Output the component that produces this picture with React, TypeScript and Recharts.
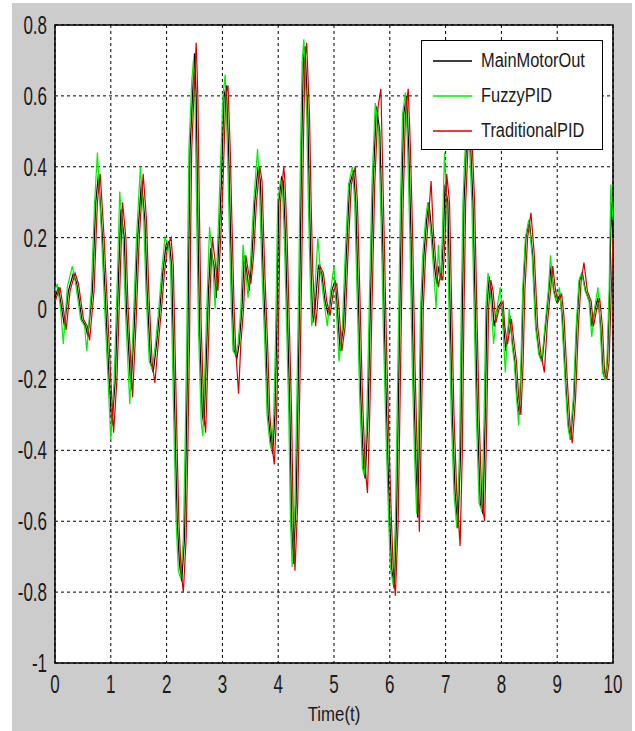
import {
  CartesianGrid,
  Legend,
  Line,
  LineChart,
  ReferenceArea,
  XAxis,
  YAxis,
} from 'recharts';

// [time, value] pairs
const mainMotorOut: [number, number][] = [
  [0, 0.03], [0.06, 0.06], [0.12, 0.0], [0.17, -0.05], [0.24, 0.05], [0.33, 0.1], [0.39, 0.07],
  [0.48, -0.03], [0.55, -0.05], [0.59, -0.08], [0.67, 0.05], [0.73, 0.3], [0.78, 0.38], [0.85, 0.2],
  [0.91, 0.0], [0.97, -0.2], [1.02, -0.33], [1.08, -0.2], [1.14, 0.1], [1.18, 0.28], [1.24, 0.2],
  [1.28, 0.0], [1.36, -0.23], [1.42, -0.05], [1.48, 0.2], [1.55, 0.36], [1.61, 0.25], [1.65, 0.05],
  [1.71, -0.15], [1.76, -0.18], [1.82, -0.1], [1.88, 0.0], [1.93, 0.1], [1.99, 0.18], [2.05, 0.19],
  [2.09, 0.12], [2.12, -0.1], [2.16, -0.4], [2.19, -0.6], [2.23, -0.72], [2.27, -0.77], [2.32, -0.65],
  [2.35, -0.4], [2.38, -0.1], [2.4, 0.2], [2.42, 0.45], [2.47, 0.62], [2.5, 0.72], [2.53, 0.6],
  [2.56, 0.25], [2.59, -0.05], [2.64, -0.3], [2.67, -0.33], [2.71, -0.15], [2.75, 0.05], [2.79, 0.17],
  [2.85, 0.12], [2.89, 0.03], [2.94, 0.2], [2.98, 0.35], [3.03, 0.6], [3.07, 0.63], [3.11, 0.45],
  [3.14, 0.25], [3.18, 0.0], [3.21, -0.12], [3.26, -0.14], [3.3, -0.1], [3.35, 0.0], [3.39, 0.15],
  [3.44, 0.1], [3.48, 0.05], [3.53, 0.15], [3.58, 0.3], [3.64, 0.4], [3.68, 0.36], [3.73, 0.1],
  [3.78, -0.1], [3.82, -0.3], [3.87, -0.38], [3.9, -0.41], [3.94, -0.3], [3.97, -0.1], [4.01, 0.3],
  [4.06, 0.37], [4.09, 0.36], [4.13, 0.2], [4.17, -0.05], [4.21, -0.3], [4.24, -0.6], [4.27, -0.72],
  [4.32, -0.55], [4.36, -0.2], [4.39, 0.1], [4.42, 0.45], [4.45, 0.7], [4.48, 0.74], [4.53, 0.55],
  [4.56, 0.3], [4.59, 0.1], [4.62, -0.04], [4.66, 0.0], [4.72, 0.12], [4.78, 0.1], [4.84, 0.02],
  [4.9, -0.02], [4.96, 0.05], [5.02, 0.08], [5.06, 0.0], [5.11, -0.12], [5.17, -0.05], [5.22, 0.15],
  [5.28, 0.35], [5.35, 0.39], [5.39, 0.3], [5.44, 0.0], [5.48, -0.25], [5.53, -0.45], [5.56, -0.48],
  [5.61, -0.3], [5.65, 0.0], [5.7, 0.35], [5.76, 0.57], [5.82, 0.5], [5.87, 0.2], [5.91, -0.1],
  [5.96, -0.4], [6.0, -0.6], [6.03, -0.73], [6.08, -0.79], [6.12, -0.6], [6.15, -0.3], [6.18, 0.0],
  [6.21, 0.3], [6.25, 0.55], [6.3, 0.6], [6.34, 0.45], [6.38, 0.2], [6.42, -0.15], [6.46, -0.4],
  [6.5, -0.59], [6.54, -0.3], [6.57, 0.0], [6.61, 0.15], [6.66, 0.25], [6.7, 0.3], [6.75, 0.22],
  [6.8, 0.12], [6.84, 0.07], [6.88, 0.12], [6.92, 0.08], [6.96, 0.2], [6.99, 0.35], [7.04, 0.3],
  [7.08, 0.0], [7.12, -0.3], [7.17, -0.52], [7.22, -0.62], [7.27, -0.4], [7.3, 0.0], [7.33, 0.3],
  [7.37, 0.45], [7.41, 0.5], [7.45, 0.45], [7.49, 0.3], [7.53, 0.0], [7.57, -0.3], [7.62, -0.55],
  [7.67, -0.58], [7.71, -0.3], [7.74, 0.0], [7.78, 0.09], [7.82, 0.05], [7.87, -0.05], [7.93, 0.0],
  [8.0, 0.02], [8.03, -0.03], [8.08, -0.12], [8.15, -0.02], [8.2, -0.1], [8.24, -0.15], [8.28, -0.25],
  [8.32, -0.3], [8.36, -0.15], [8.39, 0.05], [8.44, 0.2], [8.5, 0.25], [8.56, 0.15], [8.62, -0.05],
  [8.68, -0.13], [8.73, -0.15], [8.79, -0.05], [8.85, 0.05], [8.89, 0.12], [8.94, 0.05], [8.99, 0.02],
  [9.05, 0.04], [9.09, -0.02], [9.15, -0.2], [9.2, -0.33], [9.24, -0.37], [9.3, -0.25], [9.35, -0.05],
  [9.4, 0.08], [9.45, 0.1], [9.51, 0.05], [9.58, 0.02], [9.62, -0.05], [9.68, 0.0], [9.73, 0.03],
  [9.78, -0.05], [9.82, -0.18], [9.86, -0.2], [9.9, -0.15], [9.94, 0.05], [9.97, 0.3], [10, 0.2],
];

const fuzzyPID: [number, number][] = [
  [0, 0.05], [0.04, 0.07], [0.1, 0.0], [0.15, -0.1], [0.22, 0.06], [0.31, 0.12], [0.37, 0.07],
  [0.46, -0.03], [0.53, -0.05], [0.57, -0.12], [0.65, 0.05], [0.71, 0.3], [0.76, 0.44], [0.83, 0.22],
  [0.89, 0.0], [0.95, -0.2], [1.0, -0.37], [1.06, -0.2], [1.12, 0.1], [1.16, 0.33], [1.22, 0.2],
  [1.26, 0.0], [1.34, -0.27], [1.4, -0.05], [1.46, 0.2], [1.53, 0.4], [1.59, 0.25], [1.63, 0.05],
  [1.69, -0.15], [1.74, -0.17], [1.8, -0.1], [1.86, 0.0], [1.91, 0.1], [1.97, 0.2], [2.03, 0.18],
  [2.07, 0.12], [2.1, -0.1], [2.14, -0.4], [2.17, -0.6], [2.21, -0.74], [2.25, -0.76], [2.3, -0.65],
  [2.33, -0.4], [2.36, -0.1], [2.38, 0.2], [2.4, 0.45], [2.45, 0.64], [2.48, 0.7], [2.51, 0.58],
  [2.54, 0.25], [2.57, -0.05], [2.62, -0.32], [2.65, -0.36], [2.69, -0.15], [2.73, 0.05], [2.77, 0.23],
  [2.83, 0.12], [2.87, 0.0], [2.92, 0.2], [2.96, 0.38], [3.01, 0.6], [3.05, 0.66], [3.09, 0.45],
  [3.12, 0.25], [3.16, 0.0], [3.19, -0.12], [3.24, -0.13], [3.28, -0.1], [3.33, 0.0], [3.37, 0.18],
  [3.42, 0.1], [3.46, 0.03], [3.51, 0.15], [3.56, 0.3], [3.63, 0.45], [3.66, 0.36], [3.71, 0.1],
  [3.76, -0.1], [3.8, -0.3], [3.85, -0.38], [3.88, -0.4], [3.92, -0.3], [3.95, -0.1], [3.99, 0.3],
  [4.04, 0.36], [4.07, 0.36], [4.11, 0.2], [4.15, -0.05], [4.19, -0.3], [4.22, -0.6], [4.25, -0.73],
  [4.3, -0.55], [4.34, -0.2], [4.37, 0.1], [4.4, 0.45], [4.43, 0.7], [4.46, 0.76], [4.51, 0.55],
  [4.54, 0.3], [4.57, 0.1], [4.6, -0.05], [4.64, 0.0], [4.71, 0.2], [4.76, 0.1], [4.82, 0.02],
  [4.88, -0.05], [4.94, 0.05], [5.0, 0.12], [5.04, 0.0], [5.09, -0.15], [5.15, -0.05], [5.2, 0.15],
  [5.26, 0.35], [5.33, 0.4], [5.37, 0.3], [5.42, 0.0], [5.46, -0.25], [5.51, -0.45], [5.54, -0.47],
  [5.59, -0.3], [5.63, 0.0], [5.68, 0.35], [5.74, 0.58], [5.8, 0.5], [5.85, 0.2], [5.89, -0.1],
  [5.94, -0.4], [5.98, -0.6], [6.01, -0.73], [6.06, -0.78], [6.1, -0.6], [6.13, -0.3], [6.16, 0.0],
  [6.19, 0.3], [6.23, 0.55], [6.28, 0.61], [6.32, 0.45], [6.36, 0.2], [6.4, -0.15], [6.44, -0.4],
  [6.48, -0.58], [6.52, -0.3], [6.55, 0.0], [6.59, 0.15], [6.64, 0.25], [6.68, 0.3], [6.73, 0.22],
  [6.78, 0.12], [6.83, 0.0], [6.87, 0.18], [6.91, 0.08], [6.94, 0.2], [6.98, 0.44], [7.02, 0.3],
  [7.06, 0.0], [7.1, -0.3], [7.15, -0.52], [7.2, -0.62], [7.25, -0.4], [7.28, 0.0], [7.31, 0.3],
  [7.35, 0.45], [7.39, 0.5], [7.43, 0.45], [7.47, 0.3], [7.51, 0.0], [7.55, -0.3], [7.6, -0.55],
  [7.65, -0.57], [7.69, -0.3], [7.72, 0.0], [7.76, 0.1], [7.8, 0.05], [7.86, -0.1], [7.92, 0.0],
  [7.98, 0.06], [8.02, -0.03], [8.07, -0.18], [8.14, 0.0], [8.19, -0.1], [8.23, -0.15], [8.27, -0.25],
  [8.31, -0.33], [8.35, -0.15], [8.38, 0.05], [8.43, 0.2], [8.49, 0.25], [8.55, 0.15], [8.61, -0.05],
  [8.67, -0.13], [8.72, -0.15], [8.78, -0.05], [8.84, 0.05], [8.88, 0.15], [8.93, 0.05], [8.98, 0.02],
  [9.04, 0.06], [9.08, -0.02], [9.14, -0.2], [9.19, -0.33], [9.23, -0.37], [9.29, -0.25], [9.34, -0.05],
  [9.39, 0.08], [9.44, 0.1], [9.5, 0.05], [9.57, 0.02], [9.62, -0.08], [9.67, 0.0], [9.73, 0.06],
  [9.77, -0.05], [9.81, -0.18], [9.86, -0.2], [9.89, -0.15], [9.93, 0.05], [9.96, 0.35], [10, 0.25],
];

const traditionalPID: [number, number][] = [
  [0, 0.02], [0.09, 0.06], [0.15, 0.0], [0.2, -0.06], [0.27, 0.05], [0.36, 0.1], [0.42, 0.07],
  [0.51, -0.03], [0.58, -0.05], [0.62, -0.09], [0.7, 0.05], [0.76, 0.3], [0.81, 0.38], [0.88, 0.2],
  [0.94, 0.0], [1.0, -0.2], [1.05, -0.35], [1.11, -0.2], [1.17, 0.1], [1.21, 0.3], [1.27, 0.2],
  [1.31, 0.0], [1.39, -0.25], [1.45, -0.05], [1.51, 0.2], [1.58, 0.38], [1.64, 0.25], [1.68, 0.05],
  [1.74, -0.15], [1.79, -0.21], [1.85, -0.1], [1.91, 0.0], [1.96, 0.1], [2.02, 0.18], [2.08, 0.2],
  [2.12, 0.12], [2.15, -0.1], [2.19, -0.4], [2.22, -0.6], [2.26, -0.74], [2.3, -0.8], [2.35, -0.65],
  [2.38, -0.4], [2.41, -0.1], [2.43, 0.2], [2.45, 0.45], [2.5, 0.64], [2.53, 0.75], [2.56, 0.6],
  [2.59, 0.25], [2.62, -0.05], [2.67, -0.3], [2.7, -0.35], [2.74, -0.15], [2.78, 0.05], [2.82, 0.2],
  [2.88, 0.12], [2.92, 0.05], [2.97, 0.2], [3.01, 0.35], [3.06, 0.6], [3.1, 0.63], [3.14, 0.45],
  [3.17, 0.25], [3.21, 0.0], [3.24, -0.12], [3.29, -0.24], [3.33, -0.1], [3.38, 0.0], [3.42, 0.15],
  [3.47, 0.1], [3.51, 0.07], [3.56, 0.15], [3.61, 0.3], [3.67, 0.4], [3.71, 0.36], [3.76, 0.1],
  [3.81, -0.1], [3.85, -0.3], [3.9, -0.4], [3.93, -0.44], [3.97, -0.3], [4.0, -0.1], [4.04, 0.3],
  [4.1, 0.4], [4.12, 0.36], [4.16, 0.2], [4.2, -0.05], [4.24, -0.3], [4.27, -0.6], [4.3, -0.74],
  [4.35, -0.55], [4.39, -0.2], [4.42, 0.1], [4.45, 0.45], [4.48, 0.7], [4.51, 0.75], [4.56, 0.55],
  [4.59, 0.3], [4.62, 0.1], [4.67, -0.05], [4.7, 0.0], [4.75, 0.12], [4.81, 0.1], [4.87, 0.02],
  [4.93, -0.02], [4.99, 0.05], [5.05, 0.07], [5.09, 0.0], [5.14, -0.12], [5.2, -0.05], [5.25, 0.15],
  [5.31, 0.35], [5.38, 0.4], [5.42, 0.3], [5.47, 0.0], [5.51, -0.25], [5.56, -0.45], [5.6, -0.52],
  [5.64, -0.3], [5.68, 0.0], [5.73, 0.35], [5.79, 0.57], [5.84, 0.62], [5.9, 0.2], [5.94, -0.1],
  [5.99, -0.4], [6.03, -0.6], [6.06, -0.73], [6.1, -0.81], [6.15, -0.6], [6.18, -0.3], [6.21, 0.0],
  [6.24, 0.3], [6.28, 0.55], [6.33, 0.62], [6.37, 0.45], [6.41, 0.2], [6.45, -0.15], [6.49, -0.4],
  [6.53, -0.63], [6.57, -0.3], [6.6, 0.0], [6.64, 0.15], [6.69, 0.25], [6.74, 0.36], [6.78, 0.22],
  [6.83, 0.12], [6.87, 0.06], [6.91, 0.1], [6.95, 0.08], [6.99, 0.2], [7.02, 0.38], [7.07, 0.3],
  [7.11, 0.0], [7.15, -0.3], [7.2, -0.52], [7.26, -0.67], [7.3, -0.4], [7.33, 0.0], [7.36, 0.3],
  [7.4, 0.45], [7.44, 0.52], [7.48, 0.45], [7.52, 0.3], [7.56, 0.0], [7.6, -0.3], [7.65, -0.55],
  [7.7, -0.6], [7.74, -0.3], [7.77, 0.0], [7.81, 0.08], [7.85, 0.05], [7.9, -0.04], [7.96, 0.0],
  [8.03, 0.02], [8.06, -0.05], [8.11, -0.1], [8.18, -0.03], [8.23, -0.1], [8.27, -0.15], [8.31, -0.25],
  [8.35, -0.3], [8.39, -0.15], [8.42, 0.05], [8.47, 0.2], [8.53, 0.27], [8.59, 0.15], [8.65, -0.05],
  [8.71, -0.13], [8.77, -0.18], [8.82, -0.05], [8.88, 0.05], [8.92, 0.12], [8.97, 0.05], [9.02, 0.02],
  [9.08, 0.04], [9.12, -0.02], [9.18, -0.2], [9.23, -0.33], [9.27, -0.38], [9.33, -0.25], [9.38, -0.05],
  [9.43, 0.08], [9.48, 0.13], [9.54, 0.05], [9.61, 0.02], [9.65, -0.05], [9.71, 0.0], [9.76, 0.03],
  [9.81, -0.05], [9.85, -0.18], [9.89, -0.2], [9.93, -0.15], [9.97, 0.05], [10, 0.2],
];

const xTicks = [0, 1, 2, 3, 4, 5, 6, 7, 8, 9, 10];
const yTicks = [-1, -0.8, -0.6, -0.4, -0.2, 0, 0.2, 0.4, 0.6, 0.8];

const series = [
  { name: 'MainMotorOut', color: '#000000', points: mainMotorOut },
  { name: 'FuzzyPID', color: '#00ee00', points: fuzzyPID },
  { name: 'TraditionalPID', color: '#d40000', points: traditionalPID },
];

const font = '"Liberation Sans", Arial, sans-serif';
const ink = '#1a1a1a';

// narrow MATLAB-ish glyphs: regular sans squeezed horizontally
function XTick({ x, y, payload }: any) {
  return (
    <g transform={`translate(${x},${y + 6})`}>
      <text transform="scale(0.68,1)" textAnchor="middle" dy="0.72em" fill={ink} fontSize={25} fontFamily={font}>
        {payload.value}
      </text>
    </g>
  );
}

function YTick({ x, y, payload }: any) {
  return (
    <g transform={`translate(${x},${y})`}>
      <text transform="scale(0.68,1)" textAnchor="end" dy="0.36em" fill={ink} fontSize={25} fontFamily={font}>
        {payload.value}
      </text>
    </g>
  );
}

function TimeLabel({ viewBox }: any) {
  const cx = viewBox.x + viewBox.width / 2;
  return (
    <g transform={`translate(${cx},${viewBox.y + 58})`}>
      <text transform="scale(0.8,1)" textAnchor="middle" fill={ink} fontSize={21} fontFamily={font}>
        Time(t)
      </text>
    </g>
  );
}

function MatlabLegend() {
  return (
    <div
      style={{
        width: 182,
        height: 110,
        boxSizing: 'border-box',
        border: '1px solid #000',
        background: '#fff',
        paddingTop: 2,
        fontFamily: font,
        fontSize: 20,
        color: ink,
      }}
    >
      {series.map((s) => (
        <div key={s.name} style={{ display: 'flex', alignItems: 'center', height: 35 }}>
          <svg width={59} height={10} style={{ flexShrink: 0 }}>
            <line x1={11} x2={50} y1={5} y2={5} stroke={s.color} strokeWidth={1.5} />
          </svg>
          <span style={{ display: 'inline-block', transform: 'scaleX(0.82)', transformOrigin: 'left center', whiteSpace: 'nowrap' }}>
            {s.name}
          </span>
        </div>
      ))}
    </div>
  );
}

export default function App() {
  return (
    <div style={{ position: 'absolute', left: 0, top: 0, width: 635, height: 731, background: '#fff' }}>
      <div style={{ position: 'absolute', left: 12, top: 3, width: 620, height: 728, background: '#cccccc' }}>
        <LineChart width={620} height={728} margin={{ top: 22, right: 19, bottom: 0, left: 0 }}>
          <CartesianGrid stroke="#000" strokeDasharray="3 3" fill="#ffffff" fillOpacity={1} />
          <XAxis
            type="number"
            dataKey="t"
            domain={[0, 10]}
            ticks={xTicks}
            tick={<XTick />}
            tickLine={false}
            axisLine={false}
            height={68}
            tickMargin={0}
            allowDuplicatedCategory={false}
            label={<TimeLabel />}
          />
          <YAxis
            type="number"
            domain={[-1, 0.8]}
            ticks={yTicks}
            tick={<YTick />}
            tickLine={false}
            axisLine={false}
            width={43}
            tickMargin={2}
            allowDataOverflow
          />
          {series.map((s) => (
            <Line
              key={s.name}
              name={s.name}
              data={s.points.map(([t, v]) => ({ t, v }))}
              dataKey="v"
              type="linear"
              stroke={s.color}
              strokeWidth={1.2}
              dot={false}
              activeDot={false}
              isAnimationActive={false}
            />
          ))}
          <ReferenceArea x1={0} x2={10} y1={-1} y2={0.8} fill="none" stroke="#000" strokeWidth={1.5} />
          <Legend
            layout="vertical"
            align="center"
            verticalAlign="middle"
            wrapperStyle={{ left: 409, top: 37, width: 182, height: 110 }}
            content={<MatlabLegend />}
          />
        </LineChart>
      </div>
    </div>
  );
}
